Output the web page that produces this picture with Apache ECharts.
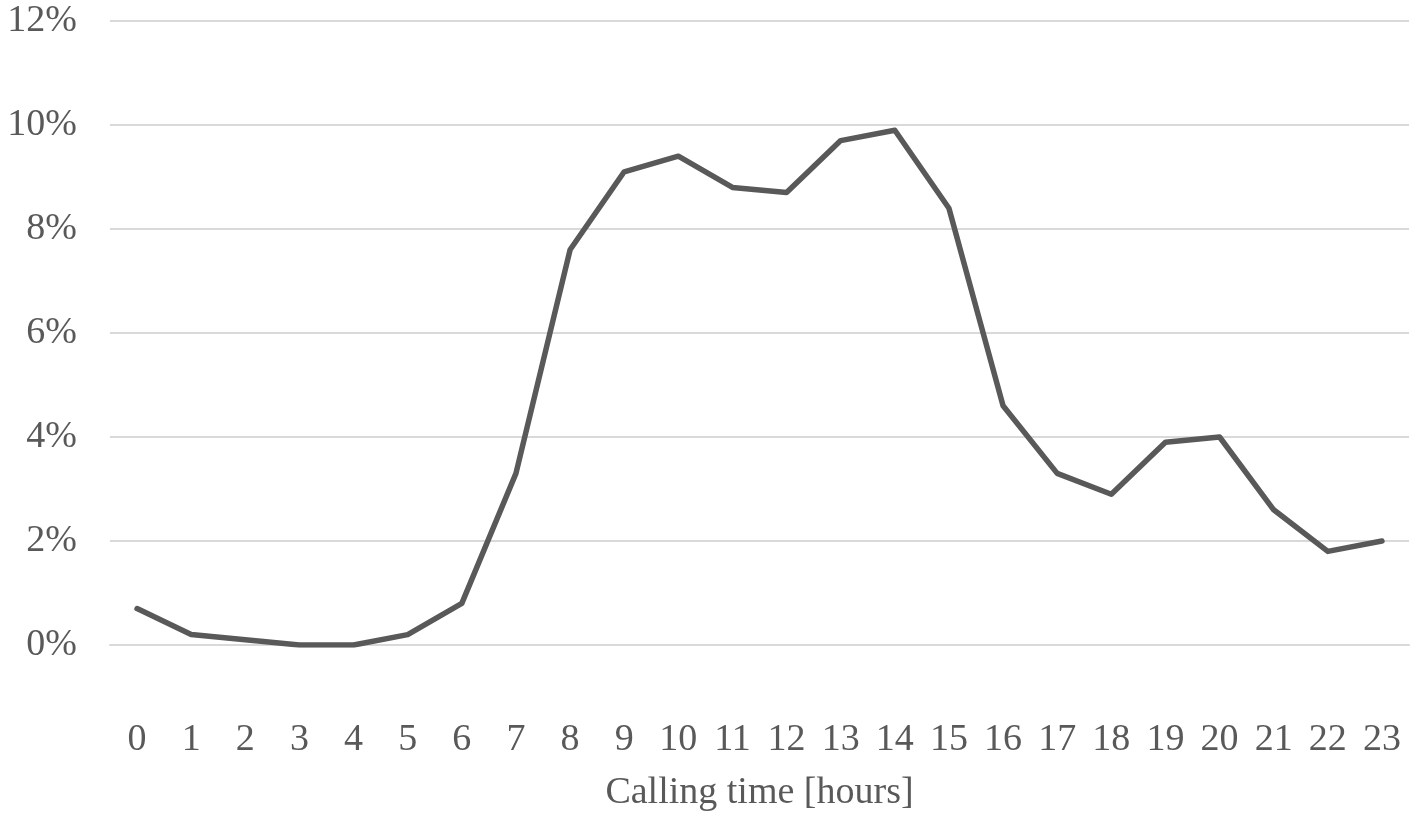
<!DOCTYPE html>
<html>
<head>
<meta charset="utf-8">
<script src="https://cdn.jsdelivr.net/npm/echarts@6/dist/echarts.min.js"></script>
<style>html,body{margin:0;padding:0;background:#fff;}#chart{width:1418px;height:820px;}</style>
</head>
<body>
<div id="chart"></div>
<script>
var hours = ['0','1','2','3','4','5','6','7','8','9','10','11','12','13','14','15','16','17','18','19','20','21','22','23'];
var shares = [0.7,0.2,0.1,0.0,0.0,0.2,0.8,3.3,7.6,9.1,9.4,8.8,8.7,9.7,9.9,8.4,4.6,3.3,2.9,3.9,4.0,2.6,1.8,2.0];
var yTicks = [0,2,4,6,8,10,12];
var xTitle = 'Calling time [hours]';

var chart = echarts.init(document.getElementById('chart'), null, {renderer:'canvas'});
var font = 'Liberation Serif';
chart.setOption({
  animation: false,
  grid: {left:110, right:9, top:21, bottom:175, containLabel:false},
  xAxis: {
    type:'category', data:hours, boundaryGap:true,
    axisLine:{show:true, lineStyle:{color:'#d9d9d9', width:2}},
    axisTick:{show:false},
    axisLabel:{color:'#595959', fontFamily:font, fontSize:38, margin:76},
    name: xTitle, nameLocation:'middle', nameGap:129,
    nameTextStyle:{color:'#595959', fontFamily:font, fontSize:38}
  },
  yAxis: {
    type:'value', min:yTicks[0], max:yTicks[yTicks.length-1], interval:2,
    axisLine:{show:false}, axisTick:{show:false},
    axisLabel:{color:'#595959', fontFamily:font, fontSize:38, margin:33, formatter:function(v){return v+'%';}},
    splitLine:{lineStyle:{color:'#d9d9d9', width:2}}
  },
  series: [{
    type:'line', data:shares, symbol:'none',
    lineStyle:{color:'#595959', width:5.5, join:'round', cap:'round'}
  }]
});
</script>
</body>
</html>
